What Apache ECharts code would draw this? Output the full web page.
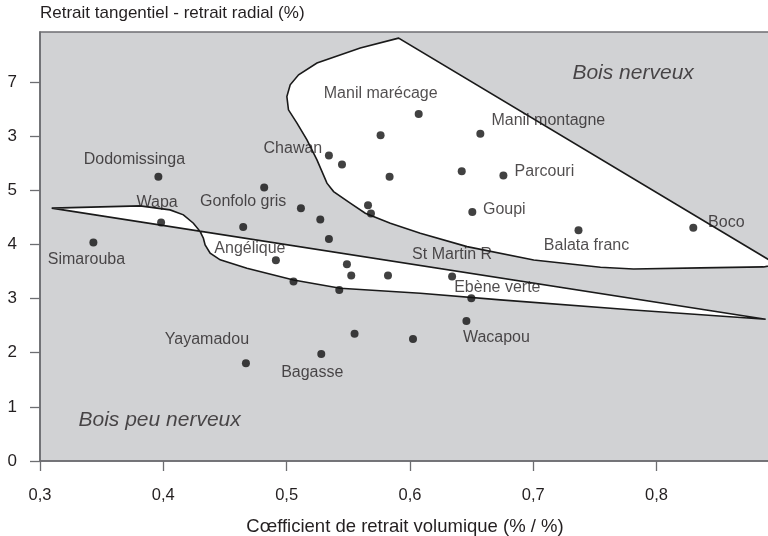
<!DOCTYPE html>
<html>
<head>
<meta charset="utf-8">
<script src="https://cdn.jsdelivr.net/npm/echarts@6/dist/echarts.min.js"></script>
<style>
html,body{margin:0;padding:0;background:#fff;}
#c{width:768px;height:536px;}
</style>
</head>
<body>
<div id="c"></div>
<script>
// ---- data ----
const names = ['Simarouba','Dodomissinga','Wapa','Gonfolo gris','','','','','Chawan','','','','','',
  'Manil marécage','Manil montagne','','Parcouri','Goupi','Balata franc','Boco','Angélique','','','','','',
  'St Martin R','Ebène verte','Wacapou','','','Bagasse','Yayamadou'];
const xValues = [0.3433,0.396,0.3982,0.4648,0.4818,0.5116,0.5273,0.5343,0.5343,0.5449,0.566,0.5684,0.5762,0.5835,
  0.6071,0.6571,0.642,0.6758,0.6506,0.7367,0.8298,0.4913,0.5056,0.5489,0.5524,0.5822,0.5427,
  0.6342,0.6498,0.6458,0.6025,0.5551,0.5281,0.467];
const yValues = [4.032,5.246,4.402,4.322,5.048,4.668,4.457,4.100,5.639,5.473,4.723,4.568,6.016,5.246,
  6.404,6.040,5.351,5.270,4.599,4.261,4.304,3.707,3.312,3.633,3.423,3.423,3.158,
  3.404,3.005,2.586,2.253,2.351,1.976,1.805];
const yTickValues = [0,1,2,3,4,5,6,7];
const yTickLabels = ['0','1','2','3','4','5','3','7'];
const xTickValues = [0.3,0.4,0.5,0.6,0.7,0.8];
// zone outlines (data coordinates)
const zoneUpper = [[0.5908,7.807],[0.5597,7.623],[0.5246,7.346],[0.5097,7.130],[0.5029,6.945],[0.5002,6.729],
  [0.5015,6.483],[0.5084,6.238],[0.5165,5.929],[0.5246,5.560],[0.5327,5.129],[0.5381,4.974],[0.5516,4.760],
  [0.5638,4.575],[0.5841,4.391],[0.6084,4.206],[0.6463,3.958],[0.7004,3.712],[0.7545,3.578],[0.7813,3.546],
  [0.8357,3.565],[0.8868,3.583],[0.8974,3.630]];
const zoneBand = [[0.3095,4.668],[0.3812,4.710],[0.4055,4.636],[0.4163,4.544],[0.4244,4.390],[0.4299,4.235],
  [0.4325,4.113],[0.4339,3.990],[0.4380,3.836],[0.4461,3.713],[0.4678,3.559],[0.5056,3.343],[0.5435,3.190],
  [0.6084,3.098],[0.6734,2.974],[0.7813,2.789],[0.8885,2.617]];
const zoneNames = ['Bois nerveux','Bois peu nerveux'];
const zoneNameX = [0.781,0.397];
const zoneNameY = [7.16,0.75];

// ---- layout (label offsets in px) ----
const labelOffsets = {
  'Simarouba':[-7,17],'Dodomissinga':[-24,-17],'Wapa':[-4,-20],'Gonfolo gris':[0,-25],'Chawan':[-36,-7],
  'Manil marécage':[-38,-21],'Manil montagne':[68,-13],'Parcouri':[41,-4],'Goupi':[32,-2],'Balata franc':[8,15],
  'Boco':[33,-5],'Angélique':[-26,-12],'St Martin R':[0,-22],'Ebène verte':[26,-11],'Wacapou':[30,17],
  'Yayamadou':[-39,-24],'Bagasse':[-9,19]
};

const FONT = "'Liberation Sans', Arial, Helvetica, sans-serif";
const TXT = '#231f20';
const AX = '#6d6e71';

const pointData = names.map((n, i) => {
  const item = { value: [xValues[i], yValues[i]], name: n };
  if (n) {
    item.label = { show: true, formatter: n, position: 'inside', offset: labelOffsets[n] || [0, -14] };
  }
  return item;
});

function polyRenderer(points) {
  return function (params, api) {
    const pts = points.map(p => api.coord(p));
    return {
      type: 'polygon',
      shape: { points: pts },
      style: { fill: '#ffffff', stroke: '#1a1a1a', lineWidth: 1.6 }
    };
  };
}

const chart = echarts.init(document.getElementById('c'), null, { renderer: 'canvas' });
chart.setOption({
  animation: false,
  textStyle: { fontFamily: FONT },
  grid: { left: 40, right: -2, top: 32, bottom: 75, show: true, backgroundColor: '#d1d2d4',
    borderColor: AX, borderWidth: 1.5, containLabel: false, outerBoundsMode: 'none' },
  xAxis: {
    type: 'value', min: 0.3, max: 0.892, interval: 0.1,
    name: 'Cœfficient de retrait volumique (% / %)', nameLocation: 'middle', nameGap: 56,
    nameTextStyle: { fontSize: 18.5, color: TXT, fontFamily: FONT },
    axisLine: { show: true, onZero: false, lineStyle: { color: AX, width: 1.6 } },
    axisTick: { show: true, length: 10, customValues: xTickValues, lineStyle: { color: AX, width: 1.3 } },
    axisLabel: { fontSize: 16.5, color: TXT, margin: 26, fontFamily: FONT, customValues: xTickValues,
      formatter: v => v.toFixed(1).replace('.', ',') },
    splitLine: { show: false }
  },
  yAxis: {
    type: 'value', min: 0, max: 7.92, interval: 1,
    name: 'Retrait tangentiel - retrait radial (%)', nameLocation: 'end', nameGap: 10,
    nameTextStyle: { fontSize: 17, color: TXT, align: 'left', fontFamily: FONT },
    axisLine: { show: true, onZero: false, lineStyle: { color: AX, width: 1.6 } },
    axisTick: { show: true, length: 10, customValues: yTickValues, lineStyle: { color: AX, width: 1.3 } },
    axisLabel: { fontSize: 17, color: TXT, margin: 23, fontFamily: FONT, customValues: yTickValues,
      formatter: v => yTickLabels[yTickValues.indexOf(Math.round(v))] },
    splitLine: { show: false }
  },
  series: [
    { type: 'custom', clip: true, data: [[0.6, 5]], renderItem: polyRenderer(zoneUpper), silent: true, z: 1 },
    { type: 'custom', clip: true, data: [[0.5, 4]], renderItem: polyRenderer(zoneBand), silent: true, z: 1 },
    {
      type: 'scatter', symbol: 'circle', symbolSize: 8, z: 3,
      itemStyle: { color: '#111111' },
      label: { color: TXT, fontSize: 16, fontFamily: FONT },
      data: pointData
    },
    {
      type: 'scatter', symbolSize: 0, z: 3, silent: true,
      label: { show: true, position: 'inside', formatter: p => p.name, fontSize: 21, fontStyle: 'italic', color: TXT, fontFamily: FONT },
      data: zoneNames.map((n, i) => ({ name: n, value: [zoneNameX[i], zoneNameY[i]] }))
    }
  ]
});
</script>
</body>
</html>
